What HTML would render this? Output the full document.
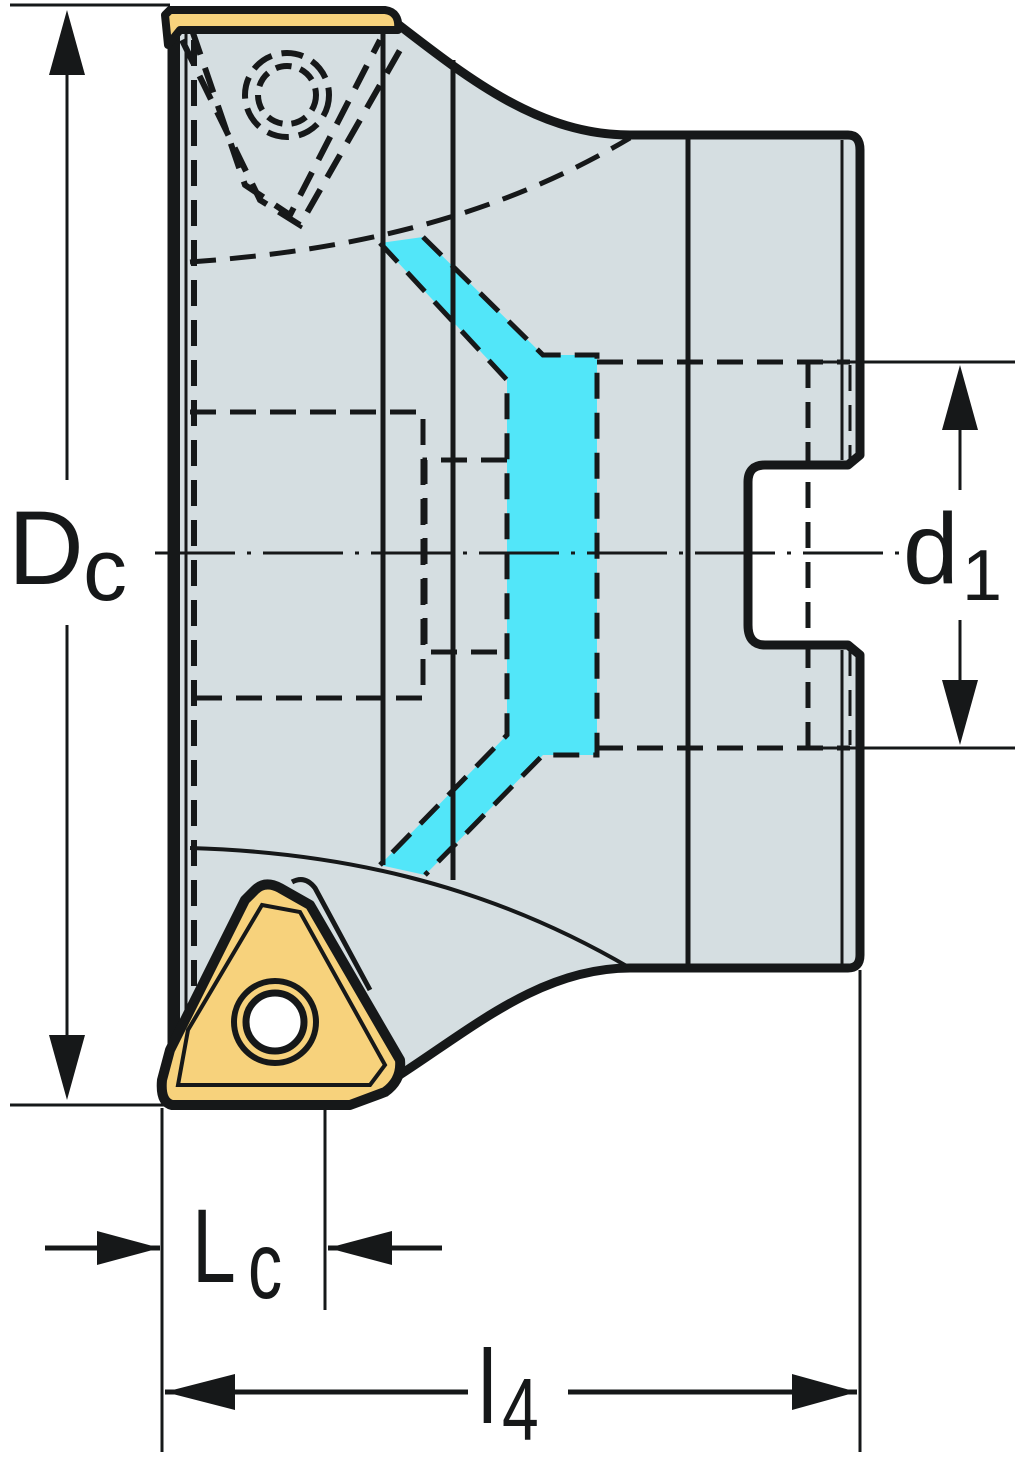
<!DOCTYPE html>
<html><head><meta charset="utf-8"><style>html,body{margin:0;padding:0;background:#fff}svg{display:block}</style></head>
<body>
<svg width="1024" height="1477" viewBox="0 0 1024 1477" xmlns="http://www.w3.org/2000/svg" font-family="Liberation Sans, sans-serif">
<!-- body -->
<path d="M172,18 L395,22 C470,80 540,135 630,135 L848,135 Q860,135 860,150 L860,455 L848,465 L765,465 Q748,465 748,482 L748,625 Q748,645 765,645 L848,645 L860,655 L860,955 Q860,968 848,968 L630,968 C540,968 470,1030 395,1078 L395,1080 L172,1100 Z" fill="#d5dee1" stroke="#161819" stroke-width="9" stroke-linejoin="round"/>
<line x1="174" y1="20" x2="174" y2="1095" stroke="#161819" stroke-width="12"/>
<!-- cyan coolant -->
<path d="M380,243 L423,237 L543,355 L597,355 L597,755 L543,755 L425,875 L380,865 L507,735 L507,380 Z" fill="#52e6f9"/>
<g stroke="#161819" fill="none" stroke-width="5">
<line x1="186" y1="25" x2="186" y2="1090" stroke-width="3"/>
<line x1="383" y1="30" x2="383" y2="865"/>
<line x1="453" y1="60" x2="453" y2="880"/>
<line x1="688" y1="138" x2="688" y2="965"/>
<line x1="842" y1="140" x2="842" y2="460" stroke-width="3"/>
<line x1="842" y1="650" x2="842" y2="965" stroke-width="3"/>
<path d="M190,848 C330,852 480,880 630,968" stroke-width="4"/>
</g>
<g stroke="#161819" fill="none" stroke-width="5" stroke-dasharray="26,14">
<path d="M190,262 C360,250 500,215 630,138"/>
<line x1="194" y1="40" x2="194" y2="1080" stroke-width="6"/>
<path d="M190,412 L423,412 L423,698 L190,698"/>
<path d="M507,460 L425,460 L425,652 L507,652"/>
<path d="M380,243 L507,380 L507,735 L380,865"/>
<path d="M423,237 L543,355 L597,355 L597,755 L543,755 L425,875"/>
<path d="M597,362 L850,362"/>
<path d="M597,748 L850,748"/>
<line x1="808" y1="362" x2="808" y2="748"/>
<line x1="850" y1="365" x2="850" y2="460" stroke-width="3"/>
<line x1="850" y1="650" x2="850" y2="745" stroke-width="3"/>
<!-- top insert dashed -->
<path d="M182,40 L260,200 L300,225 L400,50" stroke-width="6"/>
<path d="M192,30 L245,185 L290,215 L380,40" stroke-width="6"/>
<circle cx="287" cy="95" r="42" stroke-dasharray="22,10" stroke-width="6"/>
<circle cx="287" cy="95" r="29" stroke-dasharray="16,9" stroke-width="6"/>
</g>
<!-- top insert -->
<path d="M165,15 L170,10 L385,10 Q400,12 398,30 L180,30 L168,45 Z" fill="#f7d27c" stroke="#161819" stroke-width="8" stroke-linejoin="round"/>
<!-- bottom insert -->
<path d="M292,882 Q305,875 315,888 L370,990" fill="none" stroke="#161819" stroke-width="5"/>
<path d="M255,890 Q265,880 280,888 L310,905 L400,1060 Q402,1080 385,1092 L350,1105 L172,1105 Q160,1102 162,1080 L170,1050 L245,900 Z" fill="#f7d27c" stroke="#161819" stroke-width="10" stroke-linejoin="round"/>
<path d="M262,905 L188,1030 L178,1085 L370,1085 L385,1065 L300,912 Z" fill="none" stroke="#161819" stroke-width="4"/>
<circle cx="275" cy="1022" r="41" fill="#f7d27c" stroke="#161819" stroke-width="6"/>
<circle cx="275" cy="1022" r="29" fill="#fff" stroke="#161819" stroke-width="7"/>
<!-- center line -->
<line x1="155" y1="553" x2="900" y2="553" stroke="#161819" stroke-width="3" stroke-dasharray="80,12,4,12"/>
<!-- dimensions -->
<g stroke="#161819" stroke-width="3" fill="none">
<line x1="10" y1="5" x2="170" y2="5"/>
<line x1="10" y1="1105" x2="170" y2="1105"/>
<line x1="67" y1="20" x2="67" y2="480"/>
<line x1="67" y1="625" x2="67" y2="1090"/>
<line x1="815" y1="362" x2="1015" y2="362"/>
<line x1="815" y1="748" x2="1015" y2="748"/>
<line x1="960" y1="375" x2="960" y2="490"/>
<line x1="960" y1="620" x2="960" y2="735"/>
<line x1="162" y1="1108" x2="162" y2="1452"/>
<line x1="325" y1="1110" x2="325" y2="1310"/>
<line x1="860" y1="970" x2="860" y2="1452"/>
<line x1="45" y1="1248" x2="160" y2="1248" stroke-width="5"/>
<line x1="328" y1="1248" x2="442" y2="1248" stroke-width="5"/>
<line x1="165" y1="1392" x2="468" y2="1392" stroke-width="5"/>
<line x1="568" y1="1392" x2="857" y2="1392" stroke-width="5"/>
</g>
<g fill="#161819">
<polygon points="67,10 49,75 85,75"/>
<polygon points="67,1100 49,1035 85,1035"/>
<polygon points="960,365 942,430 978,430"/>
<polygon points="960,745 942,680 978,680"/>
<polygon points="160,1248 97,1231 97,1265"/>
<polygon points="328,1248 392,1231 392,1265"/>
<polygon points="165,1392 235,1374 235,1410"/>
<polygon points="857,1392 792,1374 792,1410"/>
</g>
<g fill="#161819">
<text x="8" y="584" font-size="105">D</text>
<text x="83" y="600" font-size="88">c</text>
<text x="903" y="583" font-size="100">d</text>
<text x="962" y="600" font-size="72">1</text>
<text x="192" y="1282" font-size="105" transform="translate(192,0) scale(0.75,1) translate(-192,0)">L</text>
<text x="248" y="1298" font-size="95" transform="translate(248,0) scale(0.72,1) translate(-248,0)">c</text>
<text x="478" y="1423" font-size="105" transform="translate(478,0) scale(0.8,1) translate(-478,0)">l</text>
<text x="502" y="1440" font-size="88" transform="translate(502,0) scale(0.75,1) translate(-502,0)">4</text>
</g>
</svg>
</body></html>
